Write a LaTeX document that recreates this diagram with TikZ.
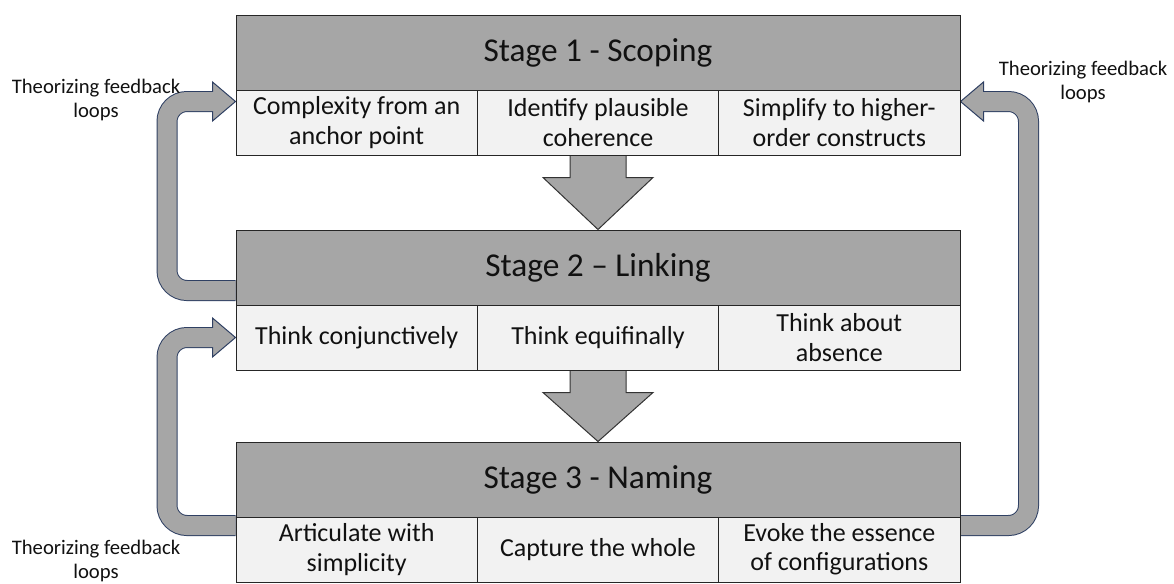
\documentclass[tikz,border=0pt]{standalone}
\usepackage{fontspec}
\setmainfont{Carlito}
\usetikzlibrary{calc,backgrounds}
\definecolor{hdr}{HTML}{A6A6A6}
\definecolor{cell}{HTML}{F2F2F2}
\definecolor{loopedge}{HTML}{2F4063}
\definecolor{arrgray}{HTML}{A6A6A6}
\definecolor{ink}{HTML}{111111}

\begin{document}
\begin{tikzpicture}[x=0.75pt,y=-0.75pt,
  header/.style={draw=black!85,line width=0.75pt,fill=hdr,text=ink,
    minimum width=543pt,minimum height=56.25pt,inner sep=0pt,
    font=\fontsize{25}{29}\selectfont},
  cellbox/.style={draw=black!85,line width=0.75pt,fill=cell,text=ink,
    minimum width=181pt,minimum height=48.75pt,inner sep=0pt,align=center,
    font=\fontsize{19.5}{22}\selectfont},
  note/.style={align=center,text=ink,font=\fontsize{15.5}{18}\selectfont},
  stagearrow/.style={fill=arrgray,draw=black!80,line width=0.75pt,line join=miter},
  bandedge/.style={draw=loopedge,line width=15.75pt,rounded corners=15pt},
  bandfill/.style={draw=arrgray,line width=14.25pt,rounded corners=15pt},
  loophead/.style={fill=arrgray,draw=loopedge,line width=0.75pt,line join=miter}]

\useasboundingbox (0,0) rectangle (1174,583);

% Stage 1
\node[header] (h1) at (598,52.5) {Stage 1 - Scoping};
\node[cellbox] (c11) at (356.67,122.5) {Complexity from an\\anchor point};
\node[cellbox] (c12) at (598,122.5) {Identify plausible\\coherence};
\node[cellbox] (c13) at (839.33,122.5) {Simplify to higher-\\order constructs};

% Stage 2
\node[header] (h2) at (598,267.5) {Stage 2 -- Linking};
\node[cellbox] (c21) at (356.67,337.5) {Think conjunctively};
\node[cellbox] (c22) at (598,337.5) {Think equifinally};
\node[cellbox] (c23) at (839.33,337.5) {Think about\\absence};

% Stage 3
\node[header] (h3) at (598,479.5) {Stage 3 - Naming};
\node[cellbox] (c31) at (356.67,549.5) {Articulate with\\simplicity};
\node[cellbox] (c32) at (598,549.5) {Capture the whole};
\node[cellbox] (c33) at (839.33,549.5) {Evoke the essence\\of configurations};

\begin{scope}[on background layer]
  % arrows between stages
  \draw[stagearrow] ($(c12.south)+(-28,0)$) -- ($(c12.south)+(-28,22)$)
    -- ($(c12.south)+(-55,22)$) -- (h2.north) -- ($(c12.south)+(55,22)$)
    -- ($(c12.south)+(28,22)$) -- ($(c12.south)+(28,0)$);
  \draw[stagearrow] ($(c22.south)+(-28,0)$) -- ($(c22.south)+(-28,22)$)
    -- ($(c22.south)+(-55,22)$) -- (h3.north) -- ($(c22.south)+(55,22)$)
    -- ($(c22.south)+(28,22)$) -- ($(c22.south)+(28,0)$);

  % feedback loop: stage 2 back to stage 1
  \coordinate (l1s) at ($(h2.south west)+(0,-15)$);
  \coordinate (l1t) at ($(c11.north west)+(0,12)$);
  \draw[bandedge] (l1s) -- ++(-68.5,0) |- ($(l1t)+(-23,0)$);
  \filldraw[loophead] ($(l1t)+(-23,-19.5)$) -- (l1t) -- ($(l1t)+(-23,19.5)$) -- cycle;
  \draw[bandfill] (l1s) -- ++(-68.5,0) |- ($(l1t)+(-21,0)$);

  % feedback loop: stage 3 back to stage 2
  \coordinate (l2s) at ($(h3.south west)+(0,8)$);
  \coordinate (l2t) at (c21.west);
  \draw[bandedge] (l2s) -- ++(-68.5,0) |- ($(l2t)+(-23,0)$);
  \filldraw[loophead] ($(l2t)+(-23,-19.5)$) -- (l2t) -- ($(l2t)+(-23,19.5)$) -- cycle;
  \draw[bandfill] (l2s) -- ++(-68.5,0) |- ($(l2t)+(-21,0)$);

  % feedback loop: stage 3 back to stage 1
  \coordinate (rs) at ($(h3.south east)+(0,8)$);
  \coordinate (rt) at ($(c13.north east)+(0,12)$);
  \draw[bandedge] (rs) -- ++(68,0) |- ($(rt)+(23,0)$);
  \filldraw[loophead] ($(rt)+(23,-19.5)$) -- (rt) -- ($(rt)+(23,19.5)$) -- cycle;
  \draw[bandfill] (rs) -- ++(68,0) |- ($(rt)+(21,0)$);
\end{scope}

% loop labels
\node[note] (n1) at (96,100) {Theorizing feedback\\loops};
\node[note] (n2) at (1083,82) {Theorizing feedback\\loops};
\node[note] (n3) at (96,561) {Theorizing feedback\\loops};
\end{tikzpicture}
\end{document}
